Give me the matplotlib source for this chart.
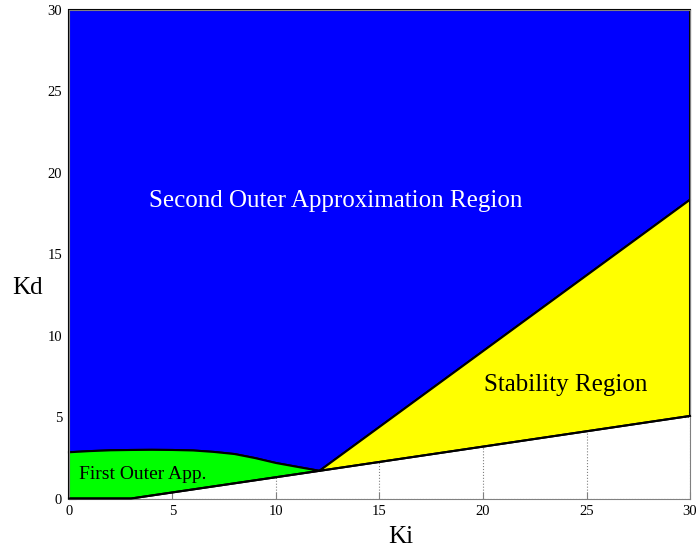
import numpy as np
import matplotlib
matplotlib.use('Agg')
import matplotlib.pyplot as plt

plt.rcParams['font.family'] = ['Liberation Serif', 'DejaVu Serif']

# bordo superiore della prima approssimazione esterna (Ki, Kd)
outer1_ki = [0, 1, 2, 3, 4, 5, 6, 7, 8, 9, 10, 11, 12.1]
outer1_kd = [2.84, 2.91, 2.96, 2.98, 2.99, 2.98, 2.95, 2.86, 2.73, 2.48, 2.18, 1.95, 1.70]

# bordo inferiore comune (limite di stabilita')
lower_ki = [0, 3.0, 12.1, 30]
lower_kd = [0, 0, 1.70, 5.07]

# regione di stabilita' (triangolo)
stab_ki = [12.1, 30, 30]
stab_kd = [1.70, 18.35, 5.07]

ki_max, kd_max = 30, 30

fig = plt.figure(figsize=(6.96, 5.52), dpi=100)
ax = fig.add_axes([0.0991, 0.0969, 0.8923, 0.885])

# seconda approssimazione esterna: tutto sopra la curva e la retta superiore
blue_ki = [0] + outer1_ki + [stab_ki[1], ki_max, ki_max]
blue_kd = [kd_max] + outer1_kd + [stab_kd[1], kd_max, kd_max]
ax.fill(blue_ki, blue_kd, facecolor=(0, 0, 1), edgecolor='k', lw=1.5, zorder=2, clip_on=False)

# prima approssimazione esterna
green_ki = outer1_ki + [lower_ki[1], lower_ki[0]]
green_kd = outer1_kd + [lower_kd[1], lower_kd[0]]
ax.fill(green_ki, green_kd, facecolor=(0, 1, 0), edgecolor='k', lw=1.5, zorder=2, clip_on=False)

ax.fill(stab_ki, stab_kd, facecolor=(1, 1, 0), edgecolor='k', lw=1.5, zorder=2, clip_on=False)
ax.plot(lower_ki, lower_kd, color='k', lw=1.5, zorder=3, clip_on=False)

ax.text(12.9, 18.3, 'Second Outer Approximation Region', color='white',
        fontsize=18, ha='center', va='center', zorder=4)
ax.text(24.0, 6.97, 'Stability Region', color='black',
        fontsize=18, ha='center', va='center', zorder=4)
ax.text(0.5, 1.5, 'First Outer App.', color='black',
        fontsize=14, ha='left', va='center', zorder=4)

ax.set_xlim(0, ki_max)
ax.set_ylim(0, kd_max)
ax.set_xticks(np.arange(0, 31, 5))
ax.set_yticks(np.arange(0, 31, 5))
ax.tick_params(direction='in', length=5, color='gray', labelsize=10.5, pad=5)
ax.set_axisbelow(True)
ax.grid(True, linestyle=':', color='gray', lw=0.8)
for s in ax.spines.values():
    s.set_color('gray')

ax.set_xlabel('Ki', fontsize=18, va='center')
ax.xaxis.set_label_coords(0.535, -0.079)
ax.set_ylabel('Kd', fontsize=18, rotation=0, ha='center', va='center')
ax.yaxis.set_label_coords(-0.066, 0.431)

fig.savefig('out.png', dpi=100)
